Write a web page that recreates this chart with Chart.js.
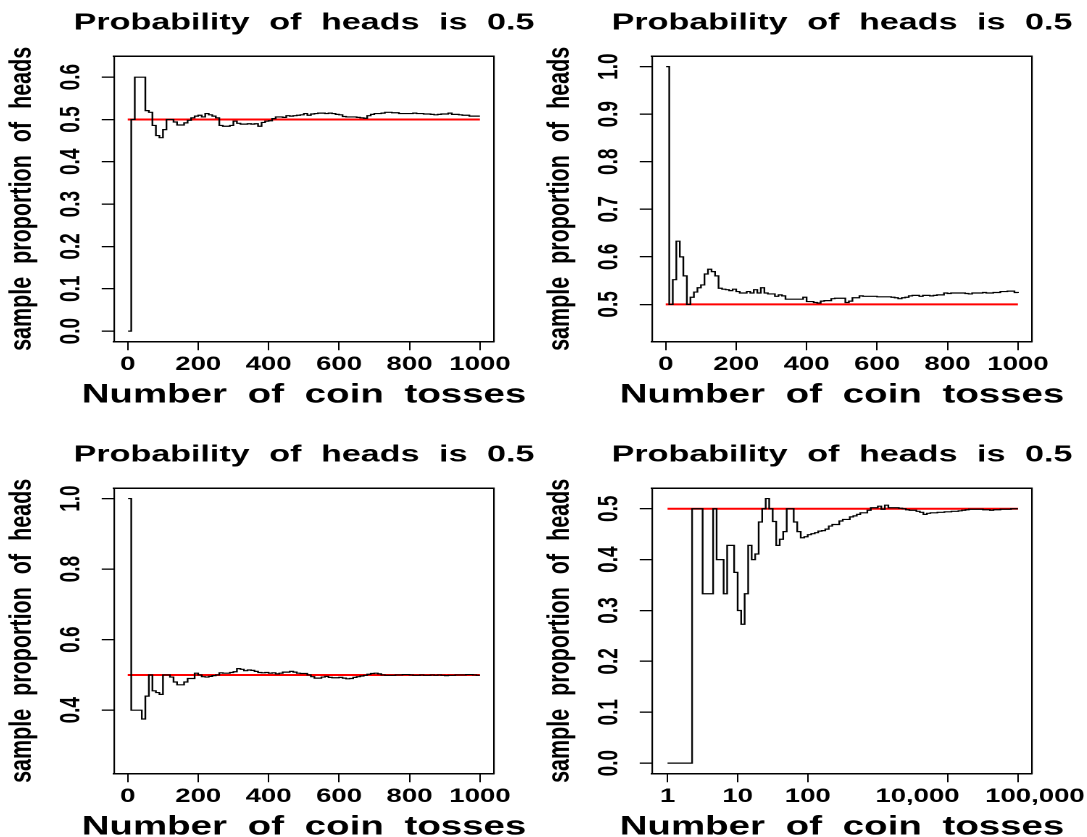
<!DOCTYPE html>
<html>
<head>
<meta charset="utf-8">
<title>Probability of heads is 0.5</title>
<script src="https://cdn.jsdelivr.net/npm/chart.js@4.4.1/dist/chart.umd.min.js"></script>
<style>
  html, body { margin: 0; padding: 0; background: #fff; overflow: hidden; }
  body { position: relative; width: 1087px; height: 837px; }
  canvas { position: absolute; }
</style>
</head>
<body>
<canvas id="panelA" width="414" height="432" style="left:4px; top:-17px; width:600px; height:432px;"></canvas>
<canvas id="panelB" width="414" height="432" style="left:542px; top:-17px; width:600px; height:432px;"></canvas>
<canvas id="panelC" width="414" height="432" style="left:4px; top:415px; width:600px; height:432px;"></canvas>
<canvas id="panelD" width="414" height="432" style="left:542px; top:415px; width:600px; height:432px;"></canvas>
<script>
// text
const titleText = 'Probability of heads is 0.5';
const xAxisLabel = 'Number of coin tosses';
const yAxisLabel = 'sample proportion of heads';

// sample points: toss 1, then every 10 tosses up to 1000
const tossCounts = [1].concat(Array.from({length: 100}, (_, i) => (i + 1) * 10));
// log panel: 20 sample points per decade from 1 to 100,000
const logTossCounts = Array.from({length: 101}, (_, k) => Math.pow(10, k / 20));

// running proportion of heads
const propA = [
  0, 0.5, 0.6, 0.6, 0.6, 0.521, 0.517, 0.486, 0.462, 0.457,
  0.476, 0.5, 0.5, 0.494, 0.487, 0.487, 0.492, 0.498, 0.504, 0.508,
  0.51, 0.506, 0.514, 0.511, 0.508, 0.504, 0.486, 0.484, 0.484, 0.486,
  0.496, 0.491, 0.489, 0.489, 0.49, 0.489, 0.49, 0.484, 0.493, 0.496,
  0.497, 0.502, 0.506, 0.506, 0.505, 0.509, 0.508, 0.509, 0.51, 0.511,
  0.514, 0.51, 0.513, 0.514, 0.515, 0.515, 0.514, 0.515, 0.514, 0.512,
  0.511, 0.507, 0.506, 0.506, 0.506, 0.505, 0.504, 0.503, 0.509, 0.512,
  0.514, 0.514, 0.515, 0.517, 0.517, 0.516, 0.516, 0.514, 0.514, 0.514,
  0.514, 0.515, 0.514, 0.514, 0.513, 0.513, 0.512, 0.511, 0.512, 0.513,
  0.513, 0.515, 0.512, 0.512, 0.511, 0.51, 0.51, 0.508, 0.508, 0.508, 0.508
];
const propB = [
  1.0, 0.5, 0.552, 0.633, 0.6, 0.56, 0.5, 0.515, 0.526, 0.535,
  0.541, 0.564, 0.574, 0.569, 0.56, 0.534, 0.532, 0.531, 0.529, 0.532,
  0.527, 0.524, 0.524, 0.527, 0.524, 0.531, 0.524, 0.535, 0.524, 0.522,
  0.522, 0.517, 0.52, 0.518, 0.511, 0.511, 0.511, 0.511, 0.511, 0.515,
  0.506, 0.506, 0.504, 0.503, 0.507, 0.508, 0.508, 0.512, 0.513, 0.513,
  0.513, 0.504, 0.507, 0.514, 0.514, 0.518, 0.517, 0.517, 0.517, 0.517,
  0.516, 0.516, 0.516, 0.516, 0.515, 0.514, 0.512, 0.514, 0.515, 0.518,
  0.519, 0.519, 0.517, 0.519, 0.519, 0.518, 0.519, 0.52, 0.52, 0.524,
  0.523, 0.524, 0.524, 0.524, 0.524, 0.523, 0.522, 0.524, 0.524, 0.524,
  0.525, 0.524, 0.524, 0.525, 0.525, 0.527, 0.527, 0.528, 0.528, 0.525, 0.524
];
const propC = [
  1.0, 0.4, 0.4, 0.4, 0.375, 0.44, 0.5, 0.455, 0.45, 0.445,
  0.5, 0.5, 0.494, 0.48, 0.472, 0.472, 0.48, 0.49, 0.49, 0.505,
  0.5, 0.495, 0.494, 0.496, 0.498, 0.5, 0.506, 0.505, 0.505, 0.507,
  0.509, 0.518, 0.516, 0.512, 0.514, 0.513, 0.51, 0.507, 0.506, 0.507,
  0.505, 0.506, 0.503, 0.505, 0.508, 0.508, 0.51, 0.508, 0.505, 0.504,
  0.504, 0.5, 0.495, 0.491, 0.491, 0.494, 0.496, 0.493, 0.492, 0.492,
  0.493, 0.491, 0.489, 0.49, 0.493, 0.495, 0.497, 0.499, 0.502, 0.504,
  0.505, 0.503, 0.5, 0.499, 0.499, 0.499, 0.5, 0.5, 0.501, 0.501,
  0.5, 0.499, 0.499, 0.5, 0.499, 0.499, 0.5, 0.499, 0.5, 0.499,
  0.498, 0.499, 0.499, 0.5, 0.5, 0.5, 0.501, 0.501, 0.5, 0.499, 0.499
];
const propD = [
  0, 0, 0, 0, 0, 0, 0, 0.5, 0.5, 0.5,
  0.333, 0.333, 0.333, 0.5, 0.4, 0.4, 0.333, 0.428, 0.428, 0.375,
  0.3, 0.273, 0.333, 0.428, 0.4, 0.411, 0.474, 0.5, 0.52, 0.5,
  0.475, 0.428, 0.44, 0.455, 0.5, 0.5, 0.474, 0.455, 0.443, 0.445,
  0.449, 0.451, 0.453, 0.456, 0.457, 0.46, 0.466, 0.469, 0.469, 0.476,
  0.479, 0.479, 0.484, 0.486, 0.489, 0.492, 0.492, 0.497, 0.502, 0.502,
  0.505, 0.499, 0.507, 0.502, 0.502, 0.502, 0.501, 0.5, 0.498, 0.497,
  0.497, 0.495, 0.493, 0.489, 0.491, 0.492, 0.492, 0.493, 0.493, 0.494,
  0.494, 0.495, 0.495, 0.496, 0.497, 0.498, 0.499, 0.499, 0.499, 0.499,
  0.498, 0.498, 0.497, 0.498, 0.498, 0.499, 0.499, 0.499, 0.5, 0.5, 0.5
];

// true probability line
const refLineX = [0, 1000];
const refLineXLog = [1, 100000];
const refLineY = [0.5, 0.5];

// ticks
const linearTicks = [0, 200, 400, 600, 800, 1000];
const logTicks = [1, 10, 100, 10000, 100000];
const logTickLabels = ['1', '10', '100', '10,000', '100,000'];
const logLabelAt = [1, 10, 100, 3680, 174600];   // the two big labels sit off their ticks
const yTicksA = [0, 0.1, 0.2, 0.3, 0.4, 0.5, 0.6];
const yTicksB = [0.5, 0.6, 0.7, 0.8, 0.9, 1.0];
const yTicksC = [0.4, 0.6, 0.8, 1.0];
const yTicksD = [0, 0.1, 0.2, 0.3, 0.4, 0.5];

const FONT = "'Liberation Sans', Arial, Helvetica, sans-serif";
const AXIS_W = 75.9;     // left axis box, mirrored on the right so titles centre on the plot
const X_AXIS_H = 37.6;

// wide gaps between words, as in the original
const wordGap = {
  id: 'wordGap',
  beforeDraw(chart) { chart.ctx.wordSpacing = '7px'; }
};

function makePanel(id, p) {
  const ctx = document.getElementById(id).getContext('2d');
  const steps = p.xs.map((x, i) => ({x: x, y: p.ys[i]}));
  const ref = p.refX.map((x, i) => ({x: x, y: refLineY[i]}));
  const isLog = p.log === true;

  new Chart(ctx, {
    type: 'line',
    data: {
      datasets: [
        {data: steps, stepped: 'before', borderColor: '#000', borderWidth: 1.2, pointRadius: 0, fill: false},
        {data: ref, borderColor: '#ff0000', borderWidth: 2, pointRadius: 0, fill: false}
      ]
    },
    options: {
      responsive: false,
      animation: false,
      devicePixelRatio: 2,
      events: [],
      plugins: {
        legend: {display: false},
        tooltip: {enabled: false},
        title: {
          display: true, text: titleText, color: '#000',
          font: {family: FONT, size: 23.5, weight: 'bold', lineHeight: 1.2},
          padding: {top: 25.9, bottom: 18.9}
        },
        subtitle: {
          display: true, position: 'bottom', text: xAxisLabel, color: '#000',
          font: {family: FONT, size: 26.5, weight: 'bold', lineHeight: 1.2},
          padding: {top: 0, bottom: 3.9}
        }
      },
      scales: {
        x: {
          type: isLog ? 'logarithmic' : 'linear',
          position: 'bottom',
          min: p.xMin, max: p.xMax,
          grid: {
            drawOnChartArea: false, drawTicks: true, tickLength: 8.5, lineWidth: 1, color: '#000',
            tickColor: (c) => (!isLog || (c.tick && logTicks.includes(c.tick.value))) ? '#000' : 'rgba(0,0,0,0)'
          },
          border: {display: true, color: '#000', width: 1.5},
          ticks: {
            autoSkip: false, minRotation: 0, maxRotation: 0, padding: 3.4, color: '#000',
            font: {family: FONT, size: 19, weight: 'bold', lineHeight: 1.2},
            callback: (v) => {
              if (!isLog) return String(v);
              const i = logLabelAt.indexOf(v);
              return i >= 0 ? logTickLabels[i] : '';
            }
          },
          afterBuildTicks: (s) => {
            const vals = isLog
              ? Array.from(new Set(logTicks.concat(logLabelAt))).sort((a, b) => a - b)
              : linearTicks;
            s.ticks = vals.map((v) => ({value: v}));
          },
          afterFit: (s) => { s.height = X_AXIS_H; }
        },
        y: {
          type: 'linear', position: 'left',
          min: p.yMin, max: p.yMax,
          grid: {drawOnChartArea: false, drawTicks: true, tickLength: 8.5, lineWidth: 1.3, color: '#000'},
          border: {display: true, color: '#000', width: 1.1},
          ticks: {
            autoSkip: false, minRotation: 90, maxRotation: 90, crossAlign: 'center', padding: 7.5, color: '#000',
            font: {family: FONT, size: 19, weight: 'bold', lineHeight: 1.2},
            callback: (v) => v.toFixed(1)
          },
          title: {
            display: true, text: yAxisLabel, color: '#000',
            font: {family: FONT, size: 21.5, weight: 'bold', lineHeight: 1},
            padding: {top: 1.6, bottom: 0}
          },
          afterBuildTicks: (s) => { s.ticks = p.yTicks.map((v) => ({value: v})); },
          afterFit: (s) => { s.width = AXIS_W; }
        },
        yRight: {
          type: 'linear', position: 'right', min: 0, max: 1,
          grid: {display: false, drawTicks: false},
          ticks: {display: false},
          border: {display: true, color: '#000', width: 1.1},
          afterFit: (s) => { s.width = AXIS_W; }
        },
        xTop: {
          type: 'linear', position: 'top', min: 0, max: 1,
          grid: {display: false, drawTicks: false},
          ticks: {display: false},
          border: {display: true, color: '#000', width: 1.5},
          afterFit: (s) => { s.height = 0; }
        }
      }
    },
    plugins: [wordGap]
  });
}

document.addEventListener('DOMContentLoaded', function() {
  makePanel('panelA', {xs: tossCounts, ys: propA, refX: refLineX, xMin: -38.96, xMax: 1039.96,
                       yMin: -0.025, yMax: 0.65, yTicks: yTicksA});
  makePanel('panelB', {xs: tossCounts, ys: propB, refX: refLineX, xMin: -38.96, xMax: 1039.96,
                       yMin: 0.4216, yMax: 1.0224, yTicks: yTicksB});
  makePanel('panelC', {xs: tossCounts, ys: propC, refX: refLineX, xMin: -38.96, xMax: 1039.96,
                       yMin: 0.22, yMax: 1.03, yTicks: yTicksC});
  makePanel('panelD', {xs: logTossCounts, ys: propD, refX: refLineXLog, log: true,
                       xMin: Math.pow(10, -0.2), xMax: Math.pow(10, 5.2),
                       yMin: -0.0208, yMax: 0.5408, yTicks: yTicksD});
});
</script>
</body>
</html>
